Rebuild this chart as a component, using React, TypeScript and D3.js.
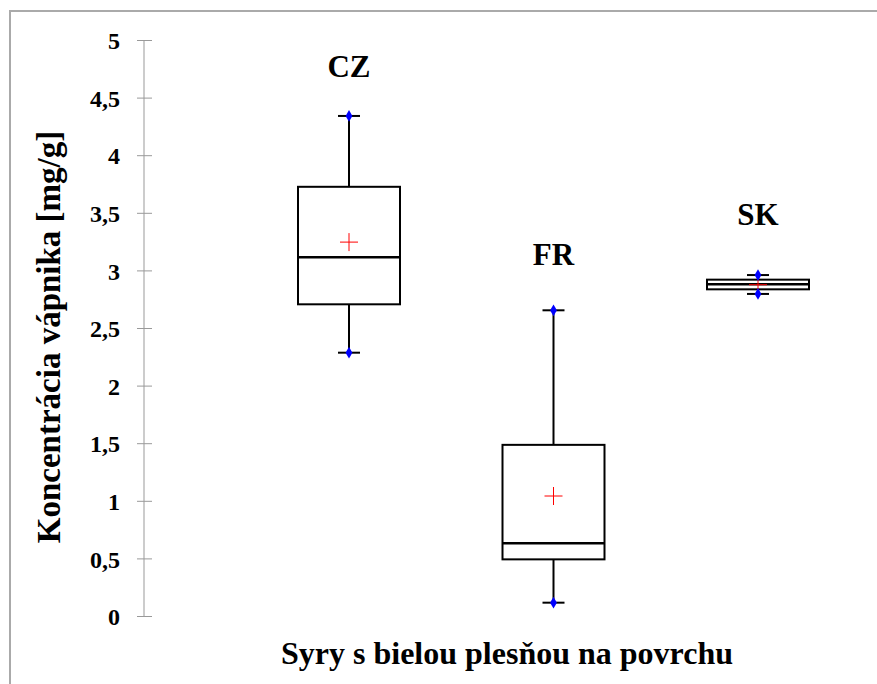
import React from "react";
import * as d3 from "d3";

const categories = ["CZ", "FR", "SK"];
const whiskerLow = [2.29, 0.12, 2.8];
const q1 = [2.71, 0.496, 2.84];
const median = [3.118, 0.635, 2.884];
const q3 = [3.73, 1.49, 2.924];
const whiskerHigh = [4.345, 2.658, 2.964];
const means = [3.25, 1.046, 2.88];
const labelAt = [4.68, 3.05, 3.4];
const yTicks = [0, 0.5, 1, 1.5, 2, 2.5, 3, 3.5, 4, 4.5, 5];

const W = 877;
const H = 684;
const FONT = "'Liberation Serif', 'Times New Roman', serif";

export default function App() {
  const y = d3.scaleLinear().domain([0, 5]).range([616.5, 40.5]);
  const x = d3.scalePoint<string>().domain(categories).range([349, 758]);
  const boxW = 102;
  const capW = 22;
  const axisX = 144;
  const fmt = (v: number) => String(v).replace(".", ",");
  const diamond = d3.symbol().type(d3.symbolDiamond).size(40)();

  return (
    <svg width={W} height={H} style={{ position: "absolute", left: 0, top: 0, background: "#fff" }}>
      <rect x={0} y={0} width={W} height={H} fill="#fff" />
      <line x1={10} y1={11} x2={W} y2={11} stroke="#aaa" strokeWidth={2} />
      <line x1={10} y1={10} x2={10} y2={H} stroke="#aaa" strokeWidth={2} />

      {/* y axis */}
      <line x1={axisX} y1={y(5)} x2={axisX} y2={y(0)} stroke="#999" strokeWidth={1} />
      {yTicks.map((t) => (
        <g key={t}>
          <line x1={axisX - 7} x2={axisX + 8} y1={y(t)} y2={y(t)} stroke="#999" strokeWidth={1} />
          <text
            x={120}
            y={y(t)}
            dy="0.36em"
            textAnchor="end"
            fontFamily={FONT}
            fontWeight="bold"
            fontSize={24}
            fill="#000"
          >
            {fmt(t)}
          </text>
        </g>
      ))}

      <text
        transform={`translate(60,337) rotate(-90)`}
        textAnchor="middle"
        fontFamily={FONT}
        fontWeight="bold"
        fontSize={33}
        fill="#000"
      >
        Koncentrácia vápnika [mg/g]
      </text>
      <text
        x={507}
        y={664}
        textAnchor="middle"
        fontFamily={FONT}
        fontWeight="bold"
        fontSize={32}
        fill="#000"
      >
        Syry s bielou plesňou na povrchu
      </text>

      {categories.map((c, i) => {
        const cx = x(c) as number;
        return (
          <g key={c}>
            <line x1={cx} x2={cx} y1={y(whiskerHigh[i])} y2={y(q3[i])} stroke="#000" strokeWidth={2} />
            <line x1={cx} x2={cx} y1={y(q1[i])} y2={y(whiskerLow[i])} stroke="#000" strokeWidth={2} />
            <line x1={cx - capW / 2} x2={cx + capW / 2} y1={y(whiskerHigh[i])} y2={y(whiskerHigh[i])} stroke="#000" strokeWidth={2} />
            <line x1={cx - capW / 2} x2={cx + capW / 2} y1={y(whiskerLow[i])} y2={y(whiskerLow[i])} stroke="#000" strokeWidth={2} />
            <rect
              x={cx - boxW / 2}
              y={y(q3[i])}
              width={boxW}
              height={y(q1[i]) - y(q3[i])}
              fill="none"
              stroke="#000"
              strokeWidth={2}
            />
            <line x1={cx - boxW / 2} x2={cx + boxW / 2} y1={y(median[i])} y2={y(median[i])} stroke="#000" strokeWidth={2.5} />
            <line x1={cx - 9} x2={cx + 9} y1={y(means[i])} y2={y(means[i])} stroke="#f00" strokeWidth={1} />
            <line x1={cx} x2={cx} y1={y(means[i]) - 9} y2={y(means[i]) + 9} stroke="#f00" strokeWidth={1} />
            <path d={diamond as string} transform={`translate(${cx},${y(whiskerHigh[i])})`} fill="#00f" />
            <path d={diamond as string} transform={`translate(${cx},${y(whiskerLow[i])})`} fill="#00f" />
            <text
              x={cx}
              y={y(labelAt[i])}
              textAnchor="middle"
              fontFamily={FONT}
              fontWeight="bold"
              fontSize={31}
              fill="#000"
            >
              {c}
            </text>
          </g>
        );
      })}
    </svg>
  );
}
